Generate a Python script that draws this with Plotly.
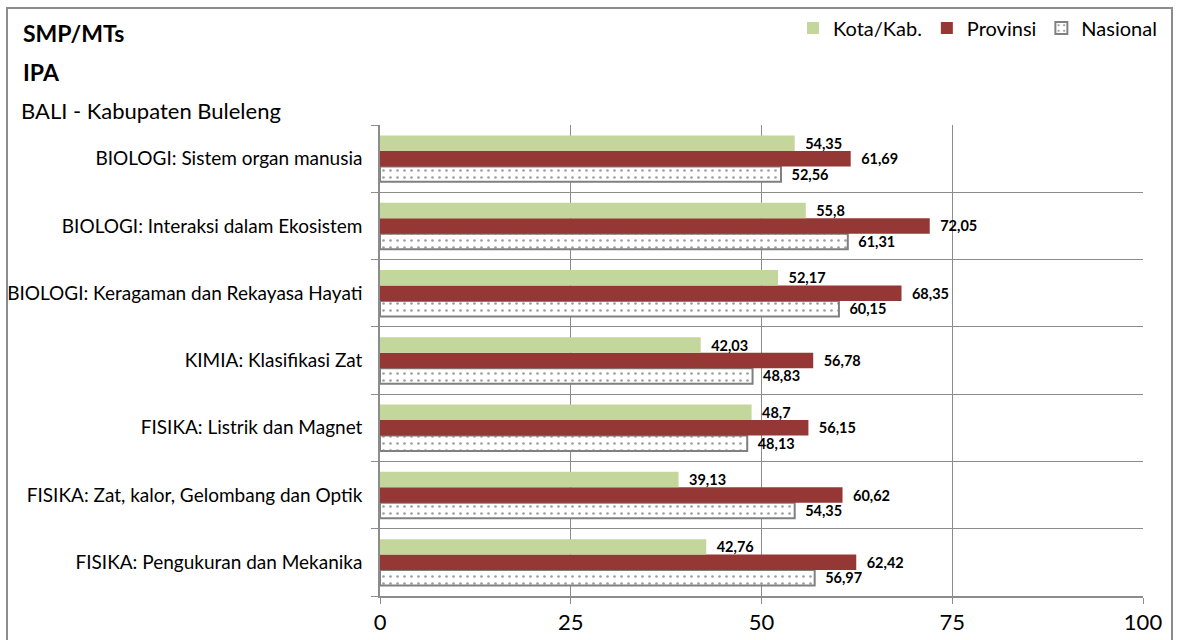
import plotly.graph_objects as go

categories = [
    "FISIKA: Pengukuran dan Mekanika",
    "FISIKA: Zat, kalor, Gelombang dan Optik",
    "FISIKA: Listrik dan Magnet",
    "KIMIA: Klasifikasi Zat",
    "BIOLOGI: Keragaman dan Rekayasa Hayati",
    "BIOLOGI: Interaksi dalam Ekosistem",
    "BIOLOGI: Sistem organ manusia",
]
kota = [42.76, 39.13, 48.7, 42.03, 52.17, 55.8, 54.35]
provinsi = [62.42, 60.62, 56.15, 56.78, 68.35, 72.05, 61.69]
nasional = [56.97, 54.35, 48.13, 48.83, 60.15, 61.31, 52.56]
x_ticks = [0, 25, 50, 75, 100]


def fmt(vals):
    return [("%g" % v).replace(".", ",") for v in vals]


FONT = "Lato"
lbl_font = dict(family=FONT, size=14.5, color="#000000")
TT = "  <b>%{text}</b>"

fig = go.Figure()
fig.add_trace(go.Bar(
    y=categories, x=nasional, orientation="h", name="Nasional",
    marker=dict(color="#ffffff", line=dict(color="#808080", width=2),
                pattern=dict(shape=".", fgcolor="#404040", bgcolor="#ffffff",
                             size=7, solidity=0.12)),
    text=fmt(nasional), textposition="outside", textfont=lbl_font, constraintext="none",
    texttemplate=TT, cliponaxis=False, legendrank=3,
))
fig.add_trace(go.Bar(
    y=categories, x=provinsi, orientation="h", name="Provinsi",
    marker=dict(color="#953735", line=dict(width=0)),
    text=fmt(provinsi), textposition="outside", textfont=lbl_font, constraintext="none",
    texttemplate=TT, cliponaxis=False, legendrank=2,
))
fig.add_trace(go.Bar(
    y=categories, x=kota, orientation="h", name="Kota/Kab.",
    marker=dict(color="#c3d69b", line=dict(width=0)),
    text=fmt(kota), textposition="outside", textfont=lbl_font, constraintext="none",
    texttemplate=TT, cliponaxis=False, legendrank=1,
))

L, R, T, B = 380, 34, 125, 44
W, H = 1177, 640
pw, ph = W - L - R, H - T - B

def px(x):
    return (x - L) / pw

def py(y):
    return (H - B - y) / ph

fig.update_layout(
    width=W, height=H,
    margin=dict(l=L, r=R, t=T, b=B, autoexpand=False),
    paper_bgcolor="#ffffff", plot_bgcolor="#ffffff",
    barmode="group", bargap=0.31, bargroupgap=0,
    font=dict(family=FONT, size=19, color="#000000"),
    showlegend=True,
    legend=dict(orientation="h", x=px(1162), xanchor="right", y=py(28), yanchor="middle",
                font=dict(family=FONT, size=20, color="#000000"),
                bgcolor="rgba(0,0,0,0)", itemwidth=30, traceorder="normal"),
    xaxis=dict(range=[0, 100], tickvals=x_ticks, ticktext=[str(v) for v in x_ticks],
               showgrid=True, gridcolor="#8c8c8c", gridwidth=1,
               showline=True, linecolor="#8c8c8c", linewidth=1.5,
               ticks="outside", ticklen=6, tickcolor="#8c8c8c",
               tickfont=dict(family=FONT, size=22), zeroline=False, fixedrange=True),
    yaxis=dict(type="category", categoryorder="array", categoryarray=categories,
               tickson="boundaries", showgrid=True, gridcolor="#8c8c8c", gridwidth=1,
               showline=True, linecolor="#8c8c8c", linewidth=1.5,
               ticks="outside", ticklen=7, tickcolor="#8c8c8c",
               tickfont=dict(family=FONT, size=19), ticklabelstandoff=12,
               fixedrange=True),
    shapes=[dict(type="rect", xref="paper", yref="paper",
                 x0=px(7), x1=px(1172), y0=py(660), y1=py(8),
                 line=dict(color="#8c8c8c", width=2), fillcolor="rgba(0,0,0,0)", layer="below")],
    annotations=[
        dict(text="<b>SMP/MTs</b>", xref="paper", yref="paper", x=px(21), y=py(33),
             xanchor="left", yanchor="middle", showarrow=False, font=dict(family=FONT, size=23)),
        dict(text="<b>IPA</b>", xref="paper", yref="paper", x=px(21), y=py(72),
             xanchor="left", yanchor="middle", showarrow=False, font=dict(family=FONT, size=23)),
        dict(text="BALI - Kabupaten Buleleng", xref="paper", yref="paper", x=px(19), y=py(110),
             xanchor="left", yanchor="middle", showarrow=False, font=dict(family=FONT, size=22)),
    ],
)

fig.write_html("out.html", post_script="document.body.style.margin='0';",
               config={"displayModeBar": False})
